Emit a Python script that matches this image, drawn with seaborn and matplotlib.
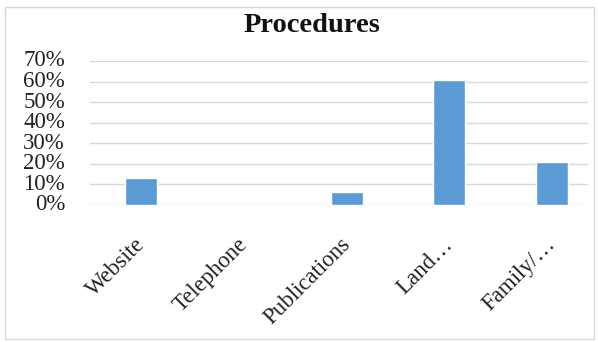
import matplotlib
matplotlib.use("Agg")
import matplotlib.pyplot as plt
import matplotlib.transforms as mtransforms
import seaborn as sns
import pandas as pd
from matplotlib.patches import Rectangle
from matplotlib.ticker import PercentFormatter

categories = ["Website", "Telephone", "Publications", "Land\u2026", "Family/\u2026"]
shares = [0.13, 0.0, 0.065, 0.61, 0.21]
y_ticks = [0.0, 0.1, 0.2, 0.3, 0.4, 0.5, 0.6, 0.7]

df = pd.DataFrame({"category": categories, "share": shares})

sns.set_theme(style="white")
plt.rcParams["font.family"] = ["Liberation Serif", "DejaVu Serif"]

fig = plt.figure(figsize=(5.98, 3.42), dpi=100)
fig.patch.set_facecolor("white")
fig.add_artist(Rectangle((5 / 598, 3 / 342), 589 / 598, 332 / 342,
                         transform=fig.transFigure, fill=False,
                         edgecolor="#D9D9D9", linewidth=1.0))

ax = fig.add_axes([90 / 598, 137 / 342, 498 / 598, 144 / 342])
sns.barplot(data=df, x="category", y="share", color="#5B9BD5",
            width=0.31, saturation=1, ax=ax, zorder=3)

ax.set_ylim(0, 0.7)
ax.set_xlim(-0.5, 4.35)
ax.set_yticks(y_ticks)
ax.yaxis.set_major_formatter(PercentFormatter(1.0, decimals=0))
ax.grid(axis="y", color="#D9D9D9", linewidth=1.0, zorder=0)
ax.set_axisbelow(True)
for s in ax.spines.values():
    s.set_visible(False)
ax.set_xlabel("")
ax.set_ylabel("")
ax.tick_params(axis="y", length=0, pad=18, labelsize=16.5, labelcolor="#222222")
ax.tick_params(axis="x", length=0, pad=21, labelsize=16.5, labelcolor="#222222")
for lbl in ax.get_yticklabels():
    lbl.set_va("center")
shift = mtransforms.ScaledTranslation(8 / 100, 0, fig.dpi_scale_trans)
for lbl in ax.get_xticklabels():
    lbl.set_rotation(45)
    lbl.set_ha("right")
    lbl.set_va("top")
    lbl.set_transform(lbl.get_transform() + shift)

fig.text(312 / 598, 1 - 25 / 342, "Procedures", ha="center", va="center",
         fontsize=20.5, fontweight="bold", color="#111111")

fig.savefig("out.png", dpi=100, facecolor="white")
